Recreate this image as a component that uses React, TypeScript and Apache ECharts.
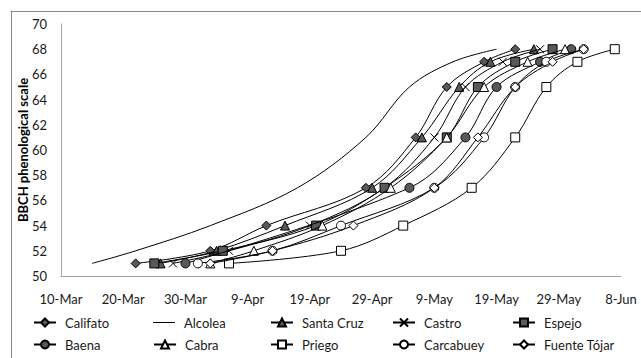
import React, { useEffect, useRef } from 'react';
import * as echarts from 'echarts';

// ---- data ----
const tickLabels = ['10-Mar', '20-Mar', '30-Mar', '9-Apr', '19-Apr', '29-Apr', '9-May', '19-May', '29-May', '8-Jun'];
const bbchLevels = [51, 52, 54, 57, 61, 65, 67, 68];
const baenaLevels = [51, 57, 61, 65, 67, 68];

const califato = ['22-Mar', '3-Apr', '12-Apr', '28-Apr', '6-May', '11-May', '17-May', '22-May'];
const alcolea = ['15-Mar', '22-Mar', '3-Apr', '17-Apr', '28-Apr', '5-May', '12-May', '19-May'];
const santaCruz = ['26-Mar', '4-Apr', '15-Apr', '29-Apr', '7-May', '13-May', '18-May', '25-May'];
const castro = ['28-Mar', '6-Apr', '19-Apr', '1-May', '9-May', '14-May', '20-May', '26-May'];
const espejo = ['25-Mar', '5-Apr', '20-Apr', '1-May', '11-May', '16-May', '22-May', '28-May'];
const baena = ['30-Mar', '5-May', '14-May', '19-May', '26-May', '31-May'];
const cabra = ['3-Apr', '10-Apr', '21-Apr', '2-May', '11-May', '17-May', '24-May', '30-May'];
const priego = ['6-Apr', '24-Apr', '4-May', '15-May', '22-May', '27-May', '1-Jun', '7-Jun'];
const carcabuey = ['1-Apr', '13-Apr', '24-Apr', '9-May', '17-May', '22-May', '27-May', '2-Jun'];
const fuenteTojar = ['3-Apr', '13-Apr', '26-Apr', '9-May', '16-May', '22-May', '28-May', '2-Jun'];

const seriesNames = ['Califato', 'Alcolea', 'Santa Cruz', 'Castro', 'Espejo', 'Baena', 'Cabra', 'Priego', 'Carcabuey', 'Fuente Tójar'];
const seriesDates = [califato, alcolea, santaCruz, castro, espejo, baena, cabra, priego, carcabuey, fuenteTojar];
const seriesLevels = [bbchLevels, bbchLevels, bbchLevels, bbchLevels, bbchLevels, baenaLevels, bbchLevels, bbchLevels, bbchLevels, bbchLevels];

// ---- helpers / styles ----
const MONTHS = ['Jan', 'Feb', 'Mar', 'Apr', 'May', 'Jun', 'Jul', 'Aug', 'Sep', 'Oct', 'Nov', 'Dec'];
const ORIGIN = Date.UTC(2011, 2, 10);
function dayOffset(s: string): number {
  const [d, m] = s.split('-');
  return Math.round((Date.UTC(2011, MONTHS.indexOf(m), Number(d)) - ORIGIN) / 86400000);
}

const GRAY = '#595959';
const WHITE = '#ffffff';
const CROSS = 'path://M0,0L10,10M10,0L0,10';
const symbols = ['diamond', 'none', 'triangle', CROSS, 'rect', 'circle', 'triangle', 'rect', 'circle', 'diamond'];
const fills = [GRAY, '#000', GRAY, 'rgba(0,0,0,0)', GRAY, GRAY, WHITE, WHITE, WHITE, WHITE];
const sizes = [9, 0, 9, 8, 9, 9, 9, 9, 9, 9];

const FONT = 'Lato';
const legendCols = [33, 153, 270, 392, 512];
const legendRows = [316, 338];

const frameAxis = {
  gridIndex: 1,
  type: 'value',
  min: 0,
  max: 1,
  silent: true,
  axisLine: { show: true, onZero: false, lineStyle: { color: '#878787', width: 1 } },
  axisTick: { show: false },
  axisLabel: { show: false },
  splitLine: { show: false },
};

export default function App() {
  const ref = useRef<HTMLDivElement>(null);
  useEffect(() => {
    if (!ref.current) return;
    const chart = echarts.init(ref.current, undefined, { renderer: 'svg' });
    const series = seriesNames.map((name, i) => ({
      name,
      type: 'line',
      data: seriesDates[i].map((d, k) => [dayOffset(d), seriesLevels[i][k]]),
      smooth: 0.35,
      symbol: symbols[i],
      symbolSize: sizes[i],
      showSymbol: symbols[i] !== 'none',
      lineStyle: { color: '#000', width: 1 },
      itemStyle: { color: fills[i], borderColor: '#000', borderWidth: 1, opacity: 1 },
      emphasis: { disabled: true },
      z: 2 + i,
    }));
    const legends = seriesNames.map((name, i) => {
      const plain = symbols[i] === 'none';
      return {
        data: [plain ? { name, icon: 'rect', itemStyle: { color: '#000', borderWidth: 0 } } : name],
        left: legendCols[i % 5],
        top: legendRows[Math.floor(i / 5)],
        padding: 0,
        itemWidth: 22,
        itemHeight: plain ? 1 : 10,
        selectedMode: false,
        textStyle: { fontFamily: FONT, fontSize: 13, color: '#1a1a1a', padding: [0, 0, 0, 4] },
      };
    });
    chart.setOption({
      animation: false,
      textStyle: { fontFamily: FONT },
      grid: [
        { left: 61, top: 24, right: 20, bottom: 82, containLabel: false },
        { left: 11, top: 11, width: 800, height: 500, containLabel: false },
      ],
      xAxis: [
        {
          type: 'value',
          min: 0,
          max: 90,
          interval: 10,
          axisLine: { show: true, lineStyle: { color: '#a6a6a6' } },
          axisTick: { show: false },
          splitLine: { show: false },
          axisLabel: {
            margin: 16,
            fontFamily: FONT,
            fontSize: 13,
            color: '#1a1a1a',
            formatter: (v: number) => tickLabels[Math.round(v / 10)] ?? '',
          },
        },
        { ...frameAxis, position: 'top' },
      ],
      yAxis: [
        {
          type: 'value',
          min: 50,
          max: 70,
          interval: 2,
          name: 'BBCH phenological scale',
          nameLocation: 'middle',
          nameRotate: 90,
          nameGap: 32,
          nameMoveOverlap: false,
          nameTextStyle: { fontFamily: FONT, fontSize: 13, fontWeight: 'bold', color: '#000' },
          axisLine: { show: true, lineStyle: { color: '#a6a6a6' } },
          axisTick: { show: false },
          splitLine: { show: false },
          axisLabel: { margin: 14, fontFamily: FONT, fontSize: 13, color: '#1a1a1a' },
        },
        { ...frameAxis, position: 'left' },
      ],
      legend: legends,
      series,
    });
    return () => chart.dispose();
  }, []);
  return (
    <div style={{ position: 'fixed', left: 0, top: 0, width: 641, height: 358, background: '#fff', overflow: 'hidden' }}>
      <div ref={ref} style={{ position: 'absolute', left: 0, top: 0, width: 641, height: 358 }} />
    </div>
  );
}
